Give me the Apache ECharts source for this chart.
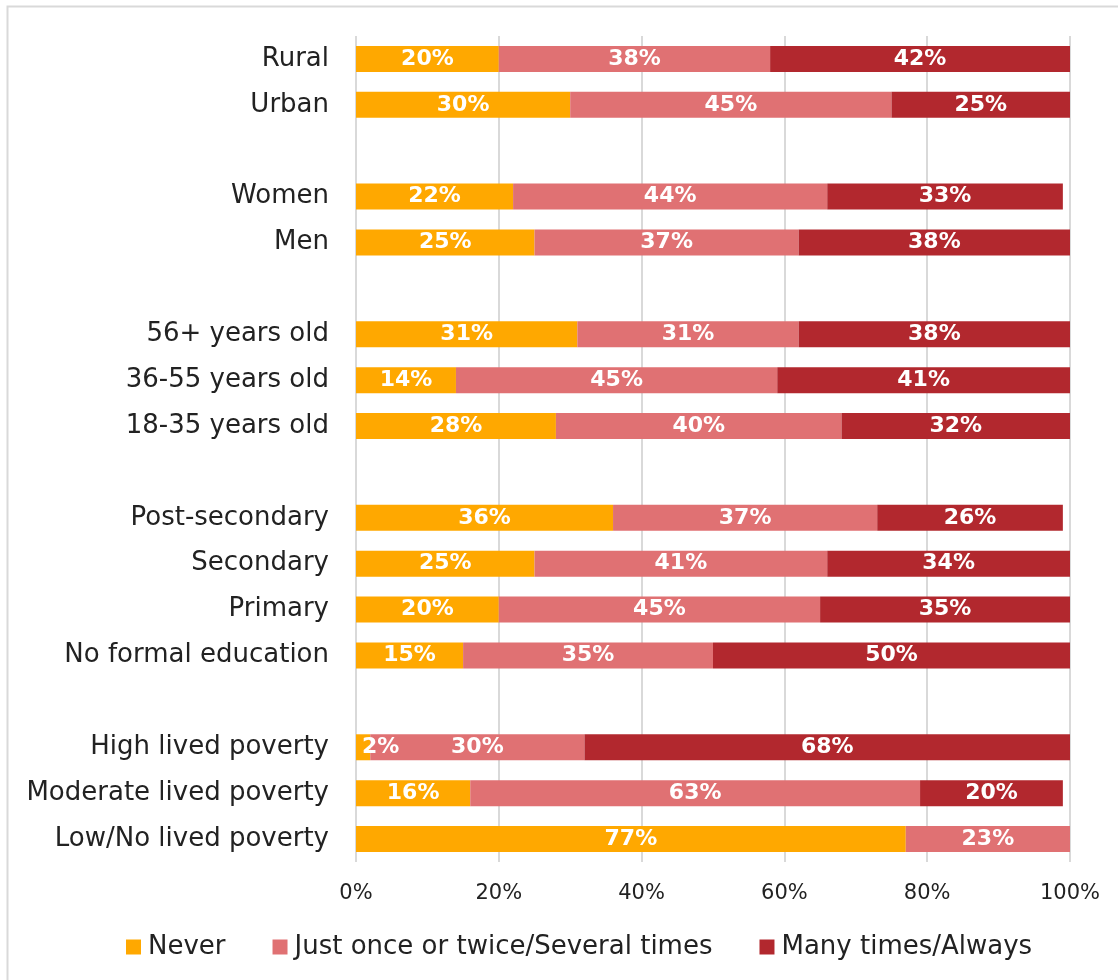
<!DOCTYPE html>
<html>
<head>
<meta charset="utf-8">
<script src="https://cdn.jsdelivr.net/npm/echarts@6/dist/echarts.min.js"></script>
<style>
  html, body { margin: 0; padding: 0; background: #fff; }
  #chart { width: 1118px; height: 980px; }
</style>
</head>
<body>
<div id="chart"></div>
<script>
// Groups separated by blank rows (blank names of different length keep them distinct)
const categories = [
  'Rural', 'Urban', ' ',
  'Women', 'Men', '  ',
  '56+ years old', '36-55 years old', '18-35 years old', '   ',
  'Post-secondary', 'Secondary', 'Primary', 'No formal education', '    ',
  'High lived poverty', 'Moderate lived poverty', 'Low/No lived poverty'
];
const seriesNames = ['Never', 'Just once or twice/Several times', 'Many times/Always'];
const never         = [20, 30, null, 22, 25, null, 31, 14, 28, null, 36, 25, 20, 15, null, 2, 16, 77];
const onceOrSeveral = [38, 45, null, 44, 37, null, 31, 45, 40, null, 37, 41, 45, 35, null, 30, 63, 23];
const manyTimes     = [42, 25, null, 33, 38, null, 38, 41, 32, null, 26, 34, 35, 50, null, 68, 20, null];
const xTicks = [0, 20, 40, 60, 80, 100];
const colors = ['#FFA800', '#E07173', '#B2282E'];

const FONT = '"DejaVu Sans", "Noto Sans", sans-serif';

// Very thin segments get their label pushed to the left edge so it stays readable
function toItems(data) {
  return data.map(v => (v != null && v < 5)
    ? { value: v, label: { position: 'insideLeft', distance: 6 } }
    : v);
}

function makeSeries(name, data, color) {
  return {
    name: name,
    type: 'bar',
    stack: 'total',
    data: toItems(data),
    barWidth: 26,
    itemStyle: { color: color },
    label: {
      show: true,
      position: 'inside',
      color: '#fff',
      fontFamily: FONT,
      fontWeight: 'bold',
      fontSize: 22,
      formatter: p => (p.value == null ? '' : p.value + '%')
    },
    labelLayout: { hideOverlap: false },
    emphasis: { disabled: true }
  };
}

const chart = echarts.init(document.getElementById('chart'), null, { renderer: 'canvas' });
chart.setOption({
  animation: false,
  color: colors,
  textStyle: { fontFamily: FONT },
  graphic: [{
    type: 'rect',
    shape: { x: 7.5, y: 6.5, width: 1200, height: 1100 },
    style: { fill: 'none', stroke: '#d9d9d9', lineWidth: 2 },
    silent: true, z: -1
  }],
  grid: { left: 356, right: 48, top: 36, bottom: 118, containLabel: false },
  xAxis: {
    type: 'value',
    min: xTicks[0],
    max: xTicks[xTicks.length - 1],
    interval: 20,
    axisLine: { show: false },
    axisTick: { show: false },
    splitLine: { show: true, lineStyle: { color: '#d9d9d9', width: 2 } },
    axisLabel: {
      color: '#222', fontSize: 21, fontFamily: FONT, margin: 21,
      formatter: v => v + '%'
    }
  },
  yAxis: {
    type: 'category',
    inverse: true,
    data: categories,
    axisLine: { show: false },
    axisTick: { show: false },
    axisLabel: { color: '#222', fontSize: 26, fontFamily: FONT, margin: 27 }
  },
  legend: {
    top: 929,
    left: 121,
    itemWidth: 15,
    itemHeight: 15,
    itemGap: 47,
    icon: 'rect',
    textStyle: { color: '#222', fontSize: 26, fontFamily: FONT, padding: [0, 0, 0, 2] },
    data: seriesNames
  },
  series: [
    makeSeries(seriesNames[0], never, colors[0]),
    makeSeries(seriesNames[1], onceOrSeveral, colors[1]),
    makeSeries(seriesNames[2], manyTimes, colors[2])
  ]
});
</script>
</body>
</html>
